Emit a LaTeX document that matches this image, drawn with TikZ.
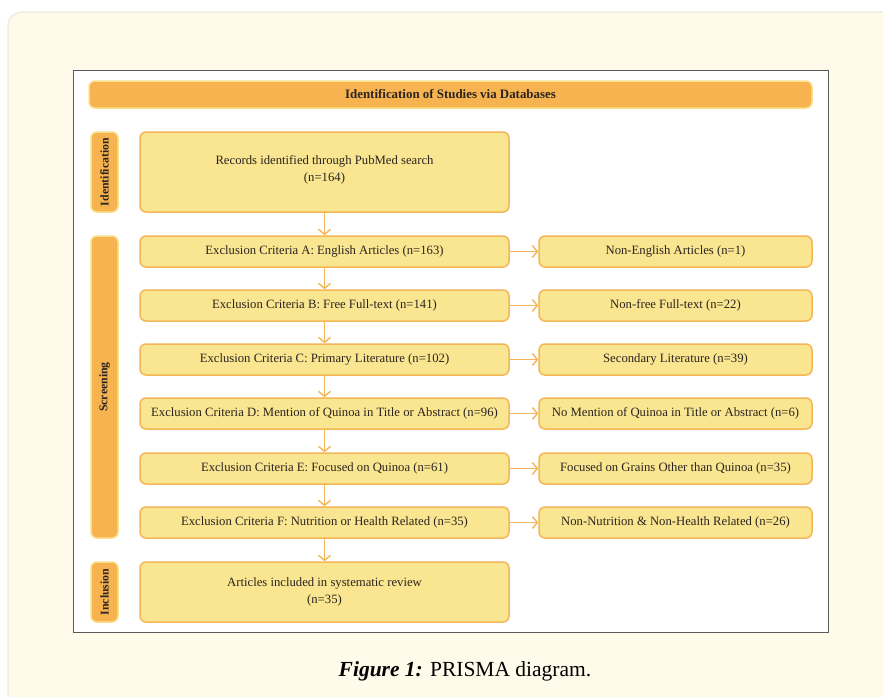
\documentclass[tikz,border=0pt]{standalone}
\usepackage{fontspec}
\setmainfont{Liberation Serif}
\usetikzlibrary{arrows.meta}
\definecolor{cream}{HTML}{FFFAE9}
\definecolor{creamline}{HTML}{EFECDD}
\definecolor{boxfill}{HTML}{FAE590}
\definecolor{boxline}{HTML}{F5B658}
\definecolor{hdrfill}{HTML}{F6B34F}
\definecolor{hdrline}{HTML}{FBE08C}
\definecolor{panelline}{HTML}{5A5A5A}
\definecolor{txt}{HTML}{2A2520}
\tikzset{
  flowbox/.style={draw=boxline, fill=boxfill, line width=1.5pt, rounded corners=6pt,
    align=center, text=txt, font=\fontsize{12.7}{17.5}\selectfont, inner sep=2pt},
  sidebox/.style={draw=hdrline, fill=hdrfill, line width=1.5pt, rounded corners=6pt,
    rotate=90, text=txt, font=\bfseries\fontsize{11.8}{14}\selectfont, inner sep=1pt},
  flowarrow/.style={draw=boxline, line width=1.4pt, -{Straight Barb[length=5pt,width=12pt]}}
}
\begin{document}
\begin{tikzpicture}[x=1pt,y=-1pt]
\useasboundingbox (0,0) rectangle (883,696);
\clip (0,0) rectangle (883,696);
\fill[white] (0,0) rectangle (883,696);
\draw[creamline, fill=cream, line width=1.5pt, rounded corners=14pt] (8,12) rectangle (920,740);
\draw[panelline, fill=white, line width=1pt] (73,70) rectangle (828,632);
% header
\node[draw=hdrline, fill=hdrfill, line width=1.5pt, rounded corners=6pt, minimum width=723pt, minimum height=27pt,
  text=txt, font=\bfseries\fontsize{12.9}{14}\selectfont, inner sep=0pt] (hdr) at (450.5,94.5) {Identification of Studies via Databases};
% side labels
\node[sidebox, minimum width=80pt, minimum height=27pt] (sid) at (104.5,172) {Identification};
\node[sidebox, minimum width=302pt, minimum height=27pt] (sscr) at (104.5,387) {Screening};
\node[sidebox, minimum width=60pt, minimum height=27pt] (sinc) at (104.5,592) {Inclusion};
% main column
\node[flowbox, minimum width=369pt, minimum height=80pt] (rec) at (324.5,172) {Records identified through PubMed search\\(n=164)\\[-11pt]};
\node[flowbox, minimum width=369pt, minimum height=31pt] (a) at (324.5,251.5) {Exclusion Criteria A: English Articles (n=163)};
\node[flowbox, minimum width=369pt, minimum height=31pt] (b) at (324.5,305.5) {Exclusion Criteria B: Free Full-text (n=141)};
\node[flowbox, minimum width=369pt, minimum height=31pt] (c) at (324.5,359.5) {Exclusion Criteria C: Primary Literature (n=102)};
\node[flowbox, minimum width=369pt, minimum height=31pt] (d) at (324.5,413.5) {Exclusion Criteria D: Mention of Quinoa in Title or Abstract (n=96)};
\node[flowbox, minimum width=369pt, minimum height=31pt] (e) at (324.5,468.5) {Exclusion Criteria E: Focused on Quinoa (n=61)};
\node[flowbox, minimum width=369pt, minimum height=31pt] (f) at (324.5,522.5) {Exclusion Criteria F: Nutrition or Health Related (n=35)};
\node[flowbox, minimum width=369pt, minimum height=60pt] (inc) at (324.5,592) {Articles included in systematic review\\(n=35)};
% right column
\node[flowbox, minimum width=273pt, minimum height=31pt] (ra) at (675.5,251.5) {Non-English Articles (n=1)};
\node[flowbox, minimum width=273pt, minimum height=31pt] (rb) at (675.5,305.5) {Non-free Full-text (n=22)};
\node[flowbox, minimum width=273pt, minimum height=31pt] (rc) at (675.5,359.5) {Secondary Literature (n=39)};
\node[flowbox, minimum width=273pt, minimum height=31pt] (rd) at (675.5,413.5) {No Mention of Quinoa in Title or Abstract (n=6)};
\node[flowbox, minimum width=273pt, minimum height=31pt] (re) at (675.5,468.5) {Focused on Grains Other than Quinoa (n=35)};
\node[flowbox, minimum width=273pt, minimum height=31pt] (rf) at (675.5,522.5) {Non-Nutrition \& Non-Health Related (n=26)};
% arrows
\draw[flowarrow] (rec) -- (a);
\draw[flowarrow] (a) -- (b);
\draw[flowarrow] (b) -- (c);
\draw[flowarrow] (c) -- (d);
\draw[flowarrow] (d) -- (e);
\draw[flowarrow] (e) -- (f);
\draw[flowarrow] (f) -- (inc);
\draw[flowarrow] (a) -- (ra);
\draw[flowarrow] (b) -- (rb);
\draw[flowarrow] (c) -- (rc);
\draw[flowarrow] (d) -- (rd);
\draw[flowarrow] (e) -- (re);
\draw[flowarrow] (f) -- (rf);
% caption
\node[text=black, font=\fontsize{21.5}{25}\selectfont, inner sep=0pt] (cap) at (465,671) {\textbf{\textit{Figure 1:}} PRISMA diagram.};
\end{tikzpicture}
\end{document}
